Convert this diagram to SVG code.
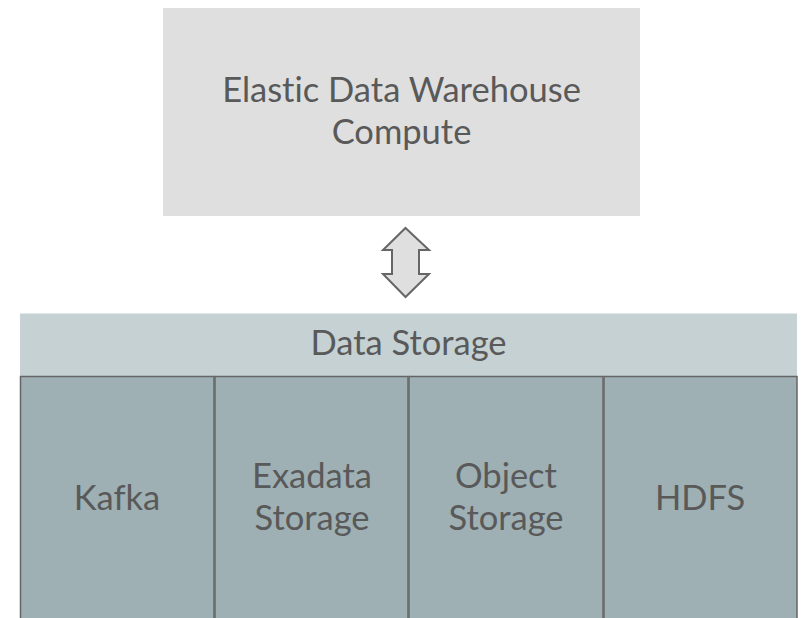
<svg xmlns="http://www.w3.org/2000/svg" width="802" height="618" viewBox="0 0 802 618">
<style>
  text { font-family: Lato, "Open Sans", "Liberation Sans", sans-serif; fill: #595959; text-anchor: middle; font-variant-ligatures: none; }
  .big { font-size: 34.5px; }
  .col { fill: #9eb0b4; stroke: #666666; stroke-width: 1.5; }
</style>
<rect width="802" height="618" fill="#ffffff"/>
<g id="compute">
  <rect x="163" y="8" width="477" height="208" fill="#dfdfdf"/>
  <text class="big" x="401.5" y="102">Elastic Data Warehouse</text>
  <text class="big" x="401.5" y="144">Compute</text>
</g>
<g id="connectors">
  <path d="M405.5,228 L429,250 L419,250 L419,274 L429,274 L405.5,297 L383,274 L392,274 L392,250 L383,250 Z" fill="#dfdfdf" stroke="#666666" stroke-width="2" stroke-linejoin="miter"/>
</g>
<g id="data-storage">
  <rect x="20" y="313.5" width="777" height="62.5" fill="#c5d1d3"/>
  <text class="big" x="408.5" y="354.5">Data Storage</text>
</g>
<g id="kafka">
  <rect class="col" x="20.5" y="376.5" width="193.5" height="245"/>
  <text class="big" x="117" y="510">Kafka</text>
</g>
<g id="exadata">
  <rect class="col" x="215" y="376.5" width="193" height="245"/>
  <text class="big" x="312" y="487.5">Exadata</text>
  <text class="big" x="312" y="529.5">Storage</text>
</g>
<g id="object-storage">
  <rect class="col" x="409" y="376.5" width="194" height="245"/>
  <text class="big" x="506" y="487.5">Object</text>
  <text class="big" x="506" y="529.5">Storage</text>
</g>
<g id="hdfs">
  <rect class="col" x="604" y="376.5" width="193" height="245"/>
  <text class="big" x="700" y="510">HDFS</text>
</g>
</svg>
